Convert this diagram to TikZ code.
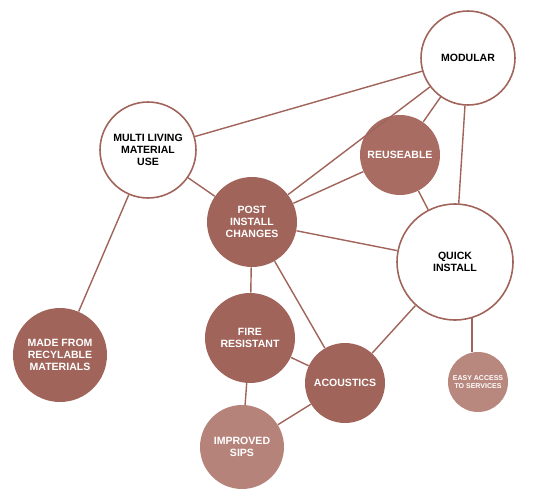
\documentclass[tikz,border=0pt]{standalone}
\usepackage{fontspec}
\setmainfont{Liberation Sans}
\usetikzlibrary{positioning}
\definecolor{ladrillo}{HTML}{A0645A}
\definecolor{ladrillomedio}{HTML}{A96C62}
\definecolor{ladrilloclaro}{HTML}{B8877E}

\begin{document}
\begin{tikzpicture}[
  x=0.02cm, y=-0.02cm,
  font=\bfseries\fontsize{6}{7}\selectfont,
  hueco/.style={circle, draw=ladrillo, line width=0.9pt, fill=white,
                text=black, align=center, inner sep=0pt},
  lleno/.style={circle, fill=ladrillo, text=white, align=center, inner sep=0pt},
  claro/.style={lleno, fill=ladrilloclaro},
  lin/.style={ladrillo, line width=0.8pt},
]
\useasboundingbox (0,0) rectangle (534,497);

% --- Círculos vacíos ---
\node[hueco, minimum size=1.88cm] (modular) at (468,58) {MODULAR};
\node[hueco, minimum size=1.92cm] (multi) at (148,150) {MULTI LIVING\\MATERIAL\\USE};
\node[hueco, minimum size=2.32cm] (quick) at (455,262) {QUICK\\INSTALL};

% --- Círculos llenos ---
\node[lleno, fill=ladrillomedio, minimum size=1.6cm] (reuse) at (400,155) {REUSEABLE};
\node[lleno, minimum size=1.8cm] (post) at (252,222) {POST\\INSTALL\\CHANGES};
\node[lleno, minimum size=1.88cm] (made) at (60,355) {MADE FROM\\RECYLABLE\\MATERIALS};
\node[lleno, minimum size=1.8cm] (fire) at (250,338) {FIRE\\RESISTANT};
\node[lleno, minimum size=1.6cm] (acous) at (345,383) {ACOUSTICS};
\node[claro, minimum size=1.2cm, font=\bfseries\fontsize{4}{5}\selectfont] (easy) at (478,382) {EASY ACCESS\\TO SERVICES};
\node[claro, fill=ladrilloclaro!90!ladrillo, minimum size=1.68cm] (sips) at (242,447) {IMPROVED\\SIPS};

% --- Enlaces ---
\draw[lin] (multi) -- (modular);
\draw[lin] (multi) -- (post);
\draw[lin] (multi) -- (made);
\draw[lin] (modular) -- (post);
\draw[lin] (modular) -- (reuse);
\draw[lin] (modular) -- (quick);
\draw[lin] (reuse) -- (post);
\draw[lin] (reuse) -- (quick);
\draw[lin] (post) -- (quick);
\draw[lin] (post) -- (fire);
\draw[lin] (post) -- (acous);
\draw[lin] (quick) -- (acous);
\draw[lin] (quick.-73) -- (quick.-73 |- easy.north);
\draw[lin] (fire) -- (acous);
\draw[lin] (fire) -- (sips);
\draw[lin] (acous) -- (sips);

\end{tikzpicture}
\end{document}
